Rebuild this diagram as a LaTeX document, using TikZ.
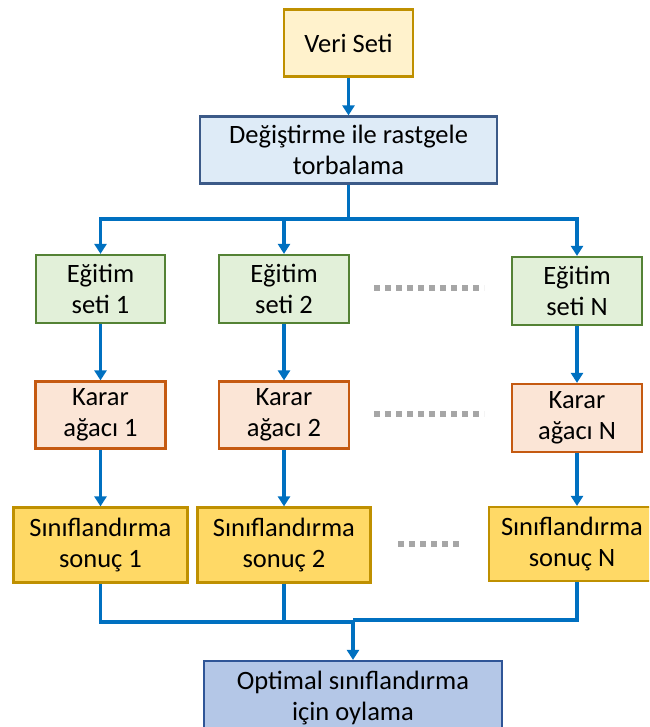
\documentclass[tikz,border=0pt]{standalone}
\usepackage{fontspec}
\setmainfont{Carlito}
\usetikzlibrary{arrows.meta}
\definecolor{arrowblue}{HTML}{0070C0}
\definecolor{veriFill}{HTML}{FFF2CC}
\definecolor{veriDraw}{HTML}{BF9000}
\definecolor{degFill}{HTML}{DEEBF7}
\definecolor{degDraw}{HTML}{3C5A88}
\definecolor{egFill}{HTML}{E2F0D9}
\definecolor{egDraw}{HTML}{548235}
\definecolor{kaFill}{HTML}{FBE5D6}
\definecolor{kaDraw}{HTML}{C55A11}
\definecolor{siFill}{HTML}{FFD966}
\definecolor{siDraw}{HTML}{BF9000}
\definecolor{opFill}{HTML}{B4C7E7}
\definecolor{opDraw}{HTML}{2F5597}
\definecolor{dotgray}{HTML}{A6A6A6}
\begin{document}
\begin{tikzpicture}[x=1pt,y=-1pt,
  box/.style={draw, line width=2.2pt, rectangle, align=center, inner sep=0pt,
    font=\fontsize{26.5}{31.5}\selectfont},
  veribox/.style={box, fill=veriFill, draw=veriDraw},
  degbox/.style={box, fill=degFill, draw=degDraw},
  egbox/.style={box, fill=egFill, draw=egDraw},
  kabox/.style={box, fill=kaFill, draw=kaDraw},
  sibox/.style={box, fill=siFill, draw=siDraw},
  opbox/.style={box, fill=opFill, draw=opDraw},
  conn/.style={draw=arrowblue, line width=3.2pt},
  arr/.style={conn, -{Triangle[width=12pt,length=10pt]}},
  dots/.style={draw=dotgray, line width=5.5pt, dash pattern=on 6pt off 5pt}
]
\useasboundingbox (0,0) rectangle (649,727);
\clip (0,0) rectangle (649,727);

\node[veribox, minimum width=129pt, minimum height=67pt] (veri) at (348.5,43) {Veri Seti};
\node[degbox, minimum width=297pt, minimum height=67pt] (deg) at (348.5,150) {Değiştirme ile rastgele\\torbalama};

\node[egbox, minimum width=129pt, minimum height=68pt] (e1) at (100.5,289) {Eğitim\\seti 1};
\node[egbox, minimum width=130pt, minimum height=68pt] (e2) at (284,289) {Eğitim\\seti 2};
\node[egbox, minimum width=130pt, minimum height=68pt] (eN) at (577,291) {Eğitim\\seti N};

\node[kabox, minimum width=130pt, minimum height=67pt] (k1) at (100.5,415) {Karar\\ağacı 1};
\node[kabox, minimum width=130pt, minimum height=67pt] (k2) at (284,415) {Karar\\ağacı 2};
\node[kabox, minimum width=130pt, minimum height=68pt] (kN) at (577,418) {Karar\\ağacı N};

\node[sibox, minimum width=174pt, minimum height=75pt] (s1) at (100.5,545) {Sınıflandırma\\sonuç 1};
\node[sibox, minimum width=173pt, minimum height=75pt] (s2) at (284,545) {Sınıflandırma\\sonuç 2};
\node[sibox, minimum width=166pt, minimum height=74pt] (sN) at (572,544) {Sınıflandırma\\sonuç N};

\node[opbox, minimum width=298pt, minimum height=74pt] (op) at (353,698) {Optimal sınıflandırma\\için oylama};

% dotted separators
\coordinate (d1a) at (374,288); \coordinate (d1b) at (484,288);
\coordinate (d2a) at (374,414); \coordinate (d2b) at (484,414);
\coordinate (d3a) at (398,544); \coordinate (d3b) at (462,544);
\draw[dots] (d1a) -- (d1b);
\draw[dots] (d2a) -- (d2b);
\draw[dots] (d3a) -- (d3b);

% top connectors
\draw[arr] (veri.south) -- (deg.north);
\coordinate (bt) at (348.5,219);
\draw[conn] (deg.south) -- (bt);
\draw[arr] (bt) -| (e1.north);
\draw[arr] (bt) -| (eN.north);
\draw[arr] (e2.north |- bt) -- (e2.north);

% column connectors
\draw[arr] (e1.south) -- (k1.north);
\draw[arr] (e2.south) -- (k2.north);
\draw[arr] (eN.south) -- (kN.north);
\draw[arr] (k1.south) -- (s1.north);
\draw[arr] (k2.south) -- (s2.north);
\draw[arr] (kN.south) -- (kN.south |- sN.north);

% bottom connectors
\coordinate (bl) at (353,622);
\coordinate (br) at (353,620);
\draw[conn] (s1.south) |- (bl);
\draw[conn] (s2.south) -- (s2.south |- bl);
\draw[conn] (kN.south |- sN.south) |- (br);
\draw[arr] (br) -- (op.north);
\end{tikzpicture}
\end{document}
